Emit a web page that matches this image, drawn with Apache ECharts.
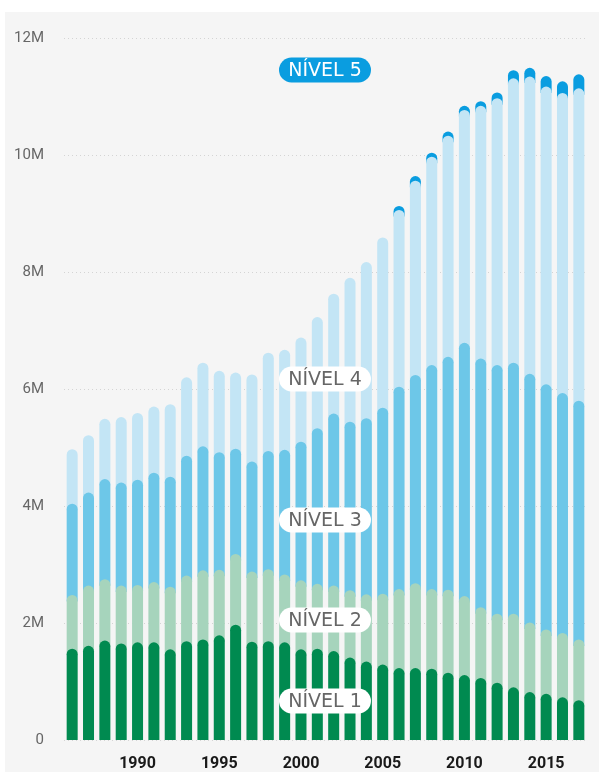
<!DOCTYPE html>
<html>
<head>
<meta charset="utf-8">
<script src="https://cdn.jsdelivr.net/npm/echarts@6/dist/echarts.min.js"></script>
<style>
  html, body { margin: 0; padding: 0; background: #fff; }
  #chart { width: 599px; height: 772px; }
</style>
</head>
<body>
<div id="chart"></div>
<script>
// anos 1986–2017, valores em milhões
const years = []
for (let y = 1986; y <= 2017; y++) years.push(String(y))

const nivel1 = [1.56, 1.61, 1.70, 1.65, 1.67, 1.67, 1.55, 1.69, 1.72, 1.79, 1.97, 1.68, 1.69, 1.67, 1.55, 1.56,
  1.52, 1.41, 1.34, 1.29, 1.23, 1.23, 1.22, 1.15, 1.11, 1.06, 0.98, 0.90, 0.82, 0.79, 0.73, 0.68]
const nivel2 = [0.92, 1.03, 1.05, 0.99, 0.98, 1.03, 1.07, 1.12, 1.18, 1.12, 1.21, 1.20, 1.23, 1.16, 1.18, 1.11,
  1.12, 1.15, 1.15, 1.21, 1.35, 1.45, 1.36, 1.42, 1.35, 1.21, 1.18, 1.26, 1.19, 1.10, 1.10, 1.04]
const nivel3 = [1.56, 1.59, 1.71, 1.76, 1.80, 1.87, 1.88, 2.05, 2.12, 2.01, 1.80, 1.88, 2.02, 2.13, 2.37, 2.66,
  2.94, 2.88, 3.01, 3.18, 3.46, 3.56, 3.83, 3.98, 4.33, 4.25, 4.25, 4.29, 4.25, 4.19, 4.10, 4.08]
const nivel4 = [0.93, 0.98, 1.03, 1.12, 1.14, 1.13, 1.24, 1.34, 1.43, 1.39, 1.30, 1.49, 1.68, 1.71, 1.78, 1.90,
  2.05, 2.46, 2.67, 2.91, 3.02, 3.32, 3.56, 3.78, 3.98, 4.32, 4.56, 4.86, 5.08, 5.09, 5.13, 5.34]
const nivel5 = [0, 0, 0, 0, 0, 0, 0, 0, 0, 0, 0, 0, 0, 0, 0, 0,
  0, 0, 0, 0, 0.07, 0.08, 0.07, 0.07, 0.07, 0.08, 0.10, 0.14, 0.15, 0.18, 0.20, 0.24]

const yTicks = [0, 2, 4, 6, 8, 10, 12]

const levels = [
  { name: 'NÍVEL 1', data: nivel1, color: '#008a50', labelY: 701 },
  { name: 'NÍVEL 2', data: nivel2, color: '#a6d4bc', labelY: 620 },
  { name: 'NÍVEL 3', data: nivel3, color: '#6dc7e8', labelY: 520 },
  { name: 'NÍVEL 4', data: nivel4, color: '#c3e5f5', labelY: 379 },
  { name: 'NÍVEL 5', data: nivel5, color: '#0a9de0', labelY: 70 },
]

const BAR_W = 11
const RADIUS = 5.5

// each segment: [index, base, top]; drawn with a rounded cap, and pulled down
// under the cap of the segment below so its corners are filled
function renderSegment(color) {
  return function (params, api) {
    const base = api.value(1)
    const top = api.value(2)
    if (top - base <= 0) return null
    const pTop = api.coord([api.value(0), top])
    const pBase = api.coord([api.value(0), base])
    const extra = base > 0 ? RADIUS + 1 : 0
    return {
      type: 'rect',
      shape: {
        x: pTop[0] - BAR_W / 2,
        y: pTop[1],
        width: BAR_W,
        height: pBase[1] - pTop[1] + extra,
        r: [RADIUS, RADIUS, 0, 0],
      },
      style: { fill: color },
    }
  }
}

let running = years.map(() => 0)
const series = levels.map((lv) => {
  const data = running.map((b, i) => {
    const t = +(b + lv.data[i]).toFixed(2)
    return [i, b, t]
  })
  running = data.map((d) => d[2])
  return {
    name: lv.name,
    type: 'custom',
    renderItem: renderSegment(lv.color),
    encode: { x: 0, y: [1, 2] },
    data,
    silent: true,
  }
}).reverse()

function pill(text, cy, dark) {
  const w = 92, h = 25, cx = 325
  return {
    type: 'group',
    z: 100,
    children: [
      {
        type: 'rect',
        z: 100,
        shape: { x: cx - w / 2, y: cy - h / 2, width: w, height: h, r: h / 2 },
        style: { fill: dark ? '#0a9de0' : '#ffffff' },
      },
      {
        type: 'text',
        z: 101,
        x: cx,
        y: cy + 1,
        style: {
          text,
          fill: dark ? '#ffffff' : '#666666',
          font: '19px "DejaVu Sans", sans-serif',
          align: 'center',
          verticalAlign: 'middle',
        },
      },
    ],
  }
}

const chart = echarts.init(document.getElementById('chart'))
chart.setOption({
  animation: false,
  backgroundColor: '#ffffff',
  grid: { left: 64, right: 12, top: 38, bottom: 30 },
  xAxis: {
    type: 'category',
    data: years,
    axisLine: { show: false },
    axisTick: { show: false },
    axisLabel: {
      interval: (i, v) => Number(v) % 5 === 0,
      color: '#1a1a1a',
      fontSize: 16,
      fontWeight: 'bold',
      fontFamily: 'Roboto, sans-serif',
      margin: 16,
    },
  },
  yAxis: {
    type: 'value',
    min: yTicks[0],
    max: yTicks[yTicks.length - 1],
    interval: 2,
    axisLine: { show: false },
    axisTick: { show: false },
    axisLabel: {
      color: '#666',
      fontSize: 15,
      fontFamily: 'Roboto, sans-serif',
      margin: 20,
      formatter: (v) => (v === 0 ? '0' : v + 'M'),
    },
    splitLine: { lineStyle: { color: '#d4d4d4', type: [1, 3], width: 1 } },
  },
  graphic: [
    {
      type: 'rect',
      z: -10,
      silent: true,
      shape: { x: 5, y: 12, width: 594, height: 760 },
      style: { fill: '#f5f5f5' },
    },
    ...levels.map((lv, i) => pill(lv.name, lv.labelY, i === 4)),
  ],
  series,
})
</script>
</body>
</html>
